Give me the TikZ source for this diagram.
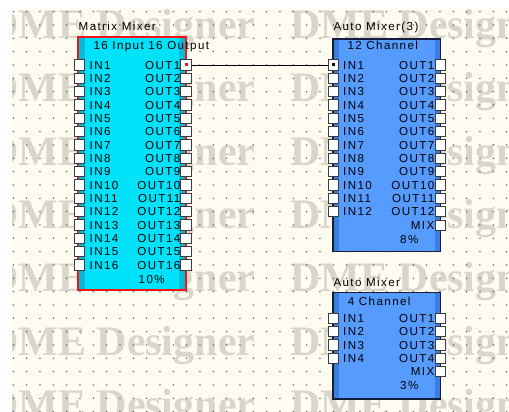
\documentclass[tikz,border=0pt]{standalone}
\usepackage{fontspec}
\setmainfont[LetterSpace=12]{Liberation Sans}
\newfontfamily\wmfont{Liberation Serif}
\usetikzlibrary{positioning}
\definecolor{canvas}{RGB}{254,251,240}
\definecolor{wmgrey}{RGB}{217,213,203}
\definecolor{dotgrey}{RGB}{70,70,70}
\definecolor{mmcyan}{RGB}{0,226,250}
\definecolor{mmcyandark}{RGB}{0,188,216}
\definecolor{mmred}{RGB}{240,20,20}
\definecolor{amblue}{RGB}{86,156,255}
\definecolor{ambluedark}{RGB}{58,126,226}
\definecolor{amborder}{RGB}{20,30,60}
\definecolor{pinborder}{RGB}{60,60,60}
\newcommand\pinfont{\fontsize{11.6}{13}\selectfont}

\begin{document}
\begin{tikzpicture}[x=1pt, y=-1pt,
  pinbox/.style={draw=pinborder, fill=white, line width=1pt, minimum size=10.5pt, inner sep=0pt},
  pinlab/.style={inner sep=0pt, text height=8.3pt, text depth=0pt, font=\pinfont},
  title/.style={inner sep=0pt, anchor=base west, font=\pinfont},
  load/.style={inner sep=0pt, anchor=base, font=\pinfont},
  wm/.style={inner sep=0pt, anchor=base west, text=wmgrey, font=\wmfont\bfseries\fontsize{42}{42}\selectfont},
  wire/.style={line width=0.9pt, black},
  dotmark/.style={inner sep=0pt, minimum size=3pt}]
\useasboundingbox (0,0) rectangle (509,412);
\fill[white] (0,0) rectangle (509,412);

% Canvas with watermark and grid
\fill[canvas] (12,9) rectangle (509,412);
\begin{scope}
\clip (12,9) rectangle (509,412);
\foreach \r [count=\n] in {38.3,101.7,165,228.3,291.7,355,418.3}{
  \node[wm] (wma\n) at (-12,\r) {DME Designer};
  \node[wm] (wmb\n) at (290,\r) {DME Designer};
}
\end{scope}
\foreach \i in {1,...,38}
  \foreach \j in {-4,...,26}
    \fill[dotgrey] (13.333*\i, 65+13.333*\j) circle (0.75);

% Matrix mixer
\node[fill=mmcyan, minimum width=107.4pt, minimum height=252.5pt, inner sep=0pt] (mm) at (132,163.75) {};
\fill[mmcyandark] ([xshift=1pt]mm.north west) rectangle ([xshift=6.5pt]mm.south west);
\fill[mmcyandark] ([xshift=-1pt]mm.north east) rectangle ([xshift=-6.5pt]mm.south east);
\draw[mmred, line width=2.2pt] (mm.north west) rectangle (mm.south east);
\node[title] (mm-name) at (78.5,31) {Matrix Mixer};
\node[title] (mm-type) at (93.3,50) {16 Input 16 Output};
\foreach \k [evaluate=\k as \yy using 65+13.333*(\k-1)] in {1,...,16}{
  \node[pinbox] (mm-in\k) at (79.5,\yy) {};
  \node[pinlab, anchor=west] (mm-inlab\k) at (89.5,\yy) {IN\k};
  \node[pinbox] (mm-out\k) at (186,\yy) {};
  \node[pinlab, anchor=east] (mm-outlab\k) at (180.5,\yy) {OUT\k};
}
\node[load] (mm-load) at (151.7,283) {10\%};

% Auto mixer, 12 channel
\node[fill=amblue, minimum width=107pt, minimum height=212.5pt, inner sep=0pt] (am3) at (386.8,145.25) {};
\fill[ambluedark] ([xshift=1pt]am3.north west) rectangle ([xshift=6pt]am3.south west);
\fill[ambluedark] ([xshift=-1pt]am3.north east) rectangle ([xshift=-6pt]am3.south east);
\draw[amborder, line width=1.5pt] (am3.north west) rectangle (am3.south east);
\node[title] (am3-name) at (333.3,31) {Auto Mixer(3)};
\node[title] (am3-type) at (347.3,50) {12 Channel};
\foreach \k [evaluate=\k as \yy using 65+13.333*(\k-1)] in {1,...,12}{
  \node[pinbox] (am3-in\k) at (333.3,\yy) {};
  \node[pinlab, anchor=west] (am3-inlab\k) at (343,\yy) {IN\k};
  \node[pinbox] (am3-out\k) at (440.3,\yy) {};
  \node[pinlab, anchor=east] (am3-outlab\k) at (434.5,\yy) {OUT\k};
}
\node[pinbox] (am3-mix) at (440.3,225.3) {};
\node[pinlab, anchor=east] (am3-mixlab) at (434.5,225.3) {MIX};
\node[load] (am3-load) at (409.3,243) {8\%};

% Auto mixer, 4 channel
\node[fill=amblue, minimum width=107pt, minimum height=106.3pt, inner sep=0pt] (am4) at (386.8,345.85) {};
\fill[ambluedark] ([xshift=1pt]am4.north west) rectangle ([xshift=6pt]am4.south west);
\fill[ambluedark] ([xshift=-1pt]am4.north east) rectangle ([xshift=-6pt]am4.south east);
\draw[amborder, line width=1.5pt] (am4.north west) rectangle (am4.south east);
\node[title] (am4-name) at (333.3,286.5) {Auto Mixer};
\node[title] (am4-type) at (347.7,305) {4 Channel};
\foreach \k [evaluate=\k as \yy using 318.3+13.333*(\k-1)] in {1,...,4}{
  \node[pinbox] (am4-in\k) at (333.3,\yy) {};
  \node[pinlab, anchor=west] (am4-inlab\k) at (343,\yy) {IN\k};
  \node[pinbox] (am4-out\k) at (440.3,\yy) {};
  \node[pinlab, anchor=east] (am4-outlab\k) at (434.5,\yy) {OUT\k};
}
\node[pinbox] (am4-mix) at (440.3,371.7) {};
\node[pinlab, anchor=east] (am4-mixlab) at (434.5,371.7) {MIX};
\node[load] (am4-load) at (409.3,389) {3\%};

% Connection
\draw[wire] (mm-out1.east) -- (am3-in1.west);
\node[dotmark, fill=mmred] (mm-sel) at (mm-out1) {};
\node[dotmark, fill=black] (am3-sel) at (am3-in1) {};
\end{tikzpicture}
\end{document}
